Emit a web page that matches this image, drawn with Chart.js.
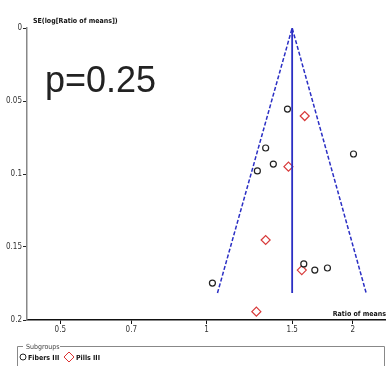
<!DOCTYPE html>
<html>
<head>
<meta charset="utf-8">
<script src="https://cdn.jsdelivr.net/npm/chart.js@4/dist/chart.umd.min.js"></script>
<style>
  html, body { margin: 0; padding: 0; background: #fff; }
  #wrap { width: 386px; height: 366px; }
</style>
</head>
<body>
<div id="wrap"><canvas id="funnel" width="386" height="366"></canvas></div>
<script>
// Données
const groupALabel = 'Fibers III';
const groupBLabel = 'Pills III';
const groupAX = [1.467, 1.323, 2.006, 1.372, 1.272, 1.585, 1.670, 1.773, 1.028];
const groupASE = [0.0555, 0.0822, 0.0863, 0.0932, 0.0979, 0.1616, 0.1658, 0.1644, 0.1747];
const groupBX = [1.592, 1.474, 1.323, 1.570, 1.266];
const groupBSE = [0.0603, 0.0950, 0.1452, 0.1658, 0.1943];
const funnelX = [1.053, 1.5, 2.13];
const funnelSE = [0.1815, 0, 0.1815];
const pooledX = [1.5, 1.5];
const pooledSE = [0, 0.1815];
const xTicks = [0.5, 0.7, 1, 1.5, 2];
const yTicks = [0, 0.05, 0.1, 0.15, 0.2];
const pText = 'p=0.25';

const toPoints = (xs, ys) => xs.map((x, i) => ({ x: x, y: ys[i] }));
const blue = '#2b2fc4';
const smallFont = '"Liberation Sans Narrow", "DejaVu Sans Condensed", sans-serif';

// L'axe X va jusqu'au bord droit du canvas
const fullWidth = {
    id: 'fullWidth',
    afterLayout(chart) {
        const x = chart.scales.x;
        x.right = chart.width;
        x.width = x.right - x.left;
        x.configure();
        chart.chartArea.right = x.right;
        chart.chartArea.width = x.right - chart.chartArea.left;
    }
};

// Textes et légende dessinés par-dessus
const extras = {
    id: 'extras',
    afterDraw(chart) {
        const ctx = chart.ctx;
        ctx.save();
        ctx.fillStyle = '#222';
        ctx.textBaseline = 'alphabetic';
        ctx.font = '36px "Liberation Sans", Arial, sans-serif';
        ctx.fillText(pText, 45, 92);

        ctx.font = 'bold 7px ' + smallFont;
        ctx.fillStyle = '#111';
        ctx.fillText('SE(log[Ratio of means])', 33, 23);
        ctx.textAlign = 'right';
        ctx.fillText('Ratio of means', 386, 316);

        // cadre de légende
        ctx.textAlign = 'left';
        ctx.strokeStyle = '#888';
        ctx.lineWidth = 1;
        ctx.beginPath();
        ctx.moveTo(23, 346.5);
        ctx.lineTo(17.5, 346.5);
        ctx.lineTo(17.5, 370);
        ctx.moveTo(60, 346.5);
        ctx.lineTo(384.5, 346.5);
        ctx.lineTo(384.5, 370);
        ctx.stroke();
        ctx.font = '7px ' + smallFont;
        ctx.fillStyle = '#444';
        ctx.fillText('Subgroups', 26, 349);

        ctx.strokeStyle = '#222';
        ctx.beginPath();
        ctx.arc(23, 357, 3, 0, Math.PI * 2);
        ctx.stroke();
        ctx.font = 'bold 7px ' + smallFont;
        ctx.fillStyle = '#111';
        ctx.fillText(groupALabel, 28, 360);
        ctx.strokeStyle = '#d33';
        ctx.beginPath();
        ctx.moveTo(69, 352);
        ctx.lineTo(74, 357);
        ctx.lineTo(69, 362);
        ctx.lineTo(64, 357);
        ctx.closePath();
        ctx.stroke();
        ctx.fillText(groupBLabel, 76, 360);
        ctx.restore();
    }
};

const chart = new Chart(document.getElementById('funnel'), {
    type: 'scatter',
    data: {
        datasets: [
            {
                label: 'funnel',
                type: 'line',
                data: toPoints(funnelX, funnelSE),
                borderColor: blue,
                borderWidth: 1.5,
                borderDash: [4, 2],
                pointRadius: 0,
                fill: false
            },
            {
                label: 'pooled',
                type: 'line',
                data: toPoints(pooledX, pooledSE),
                borderColor: blue,
                borderWidth: 1.8,
                pointRadius: 0,
                fill: false
            },
            {
                label: groupALabel,
                data: toPoints(groupAX, groupASE),
                pointStyle: 'circle',
                pointRadius: 3,
                borderColor: '#222',
                backgroundColor: '#fff',
                borderWidth: 1.2
            },
            {
                label: groupBLabel,
                data: toPoints(groupBX, groupBSE),
                pointStyle: 'rectRot',
                pointRadius: 4.5,
                borderColor: '#d83a3a',
                backgroundColor: 'rgba(255,255,255,0)',
                borderWidth: 1.2
            }
        ]
    },
    options: {
        responsive: false,
        animation: false,
        layout: { padding: { top: 28, right: 0, left: 0, bottom: 0 } },
        plugins: {
            legend: { display: false },
            tooltip: { enabled: false }
        },
        scales: {
            x: {
                type: 'logarithmic',
                min: 0.427,
                max: 2.34,
                afterBuildTicks: function(scale) {
                    scale.ticks = xTicks.map(v => ({ value: v }));
                },
                afterFit: function(scale) { scale.height = 46; },
                border: { color: '#111', width: 1.5 },
                grid: { drawOnChartArea: false, tickLength: 4, color: '#111' },
                ticks: {
                    autoSkip: false,
                    maxRotation: 0,
                    padding: 1,
                    color: '#333',
                    font: { size: 8, family: smallFont },
                    callback: function(value) { return String(value); }
                }
            },
            y: {
                reverse: true,
                min: 0,
                max: 0.2,
                afterBuildTicks: function(scale) {
                    scale.ticks = yTicks.map(v => ({ value: v }));
                },
                afterFit: function(scale) { scale.width = 27; },
                border: { color: '#888', width: 1.5 },
                grid: { drawOnChartArea: false, tickLength: 4, color: '#222' },
                ticks: {
                    padding: 1,
                    color: '#333',
                    font: { size: 8, family: smallFont },
                    callback: function(value) { return String(value); }
                }
            }
        }
    },
    plugins: [fullWidth, extras]
});
</script>
</body>
</html>
